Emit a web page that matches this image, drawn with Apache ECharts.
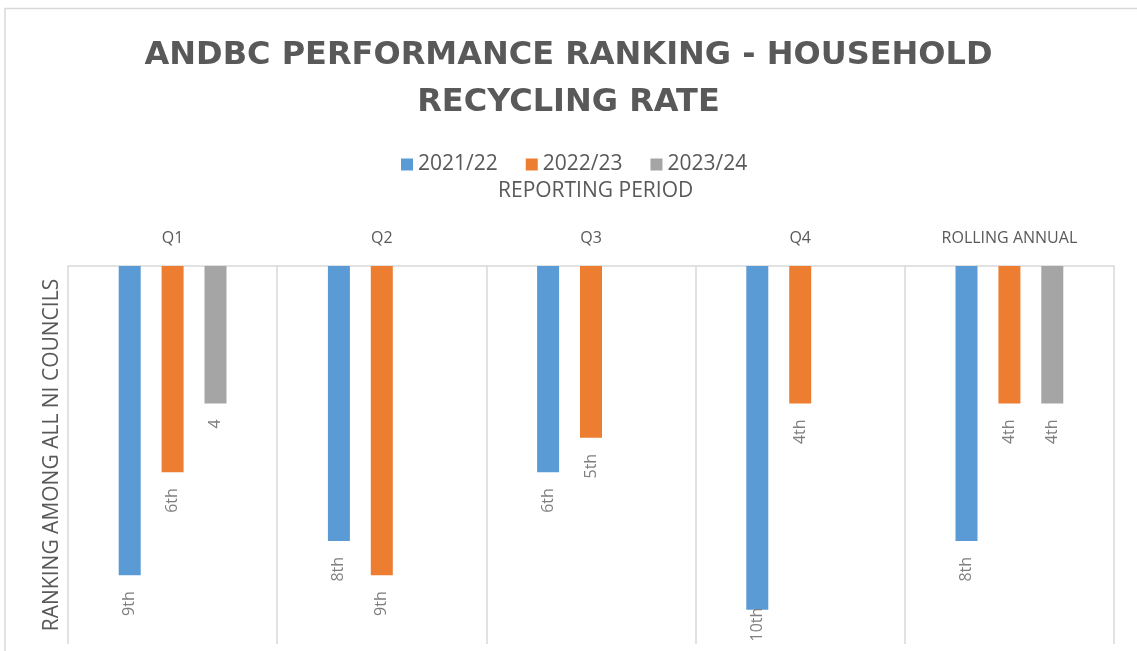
<!DOCTYPE html>
<html>
<head>
<meta charset="utf-8">
<script src="https://cdn.jsdelivr.net/npm/echarts@6/dist/echarts.min.js"></script>
<style>
html,body{margin:0;padding:0;background:#fff;}
#chart{width:1137px;height:651px;}
</style>
</head>
<body>
<div id="chart"></div>
<script>
const categories = ["Q1", "Q2", "Q3", "Q4", "ROLLING ANNUAL"];
const seriesNames = ["2021/22", "2022/23", "2023/24"];
const values2122 = [9, 8, 6, 10, 8];
const values2223 = [6, 9, 5, 4, 4];
const values2324 = [4, null, null, null, 4];
const labels2122 = ["9th", "8th", "6th", "10th", "8th"];
const labels2223 = ["6th", "9th", "5th", "4th", "4th"];
const labels2324 = ["4", "", "", "", "4th"];
const colors = ["#5B9BD5", "#ED7D31", "#A5A5A5"];

const chart = echarts.init(document.getElementById('chart'), null, {renderer: 'canvas'});
const font = '"Open Sans", "Liberation Sans", sans-serif';
const yMax = 11;

function makeSeries(name, vals, labs, color) {
  return {
    name: name,
    type: 'bar',
    // labels that would run off the bottom of the plot are pulled back onto the bar end
    data: vals.map(function (v) {
      if (v !== null && v >= yMax - 1) {
        return {value: v, label: {distance: -2}};
      }
      return v;
    }),
    barWidth: 22,
    barGap: '95%',
    itemStyle: {color: color},
    label: {
      show: true,
      position: 'bottom',
      distance: 16,
      rotate: 90,
      align: 'right',
      verticalAlign: 'middle',
      fontFamily: font,
      fontSize: 16,
      color: '#7f7f7f',
      formatter: function (p) { return labs[p.dataIndex]; }
    }
  };
}

chart.setOption({
  animation: false,
  backgroundColor: '#ffffff',
  title: [{
    text: 'ANDBC PERFORMANCE RANKING - HOUSEHOLD\nRECYCLING RATE',
    left: 'center',
    top: 27,
    textStyle: {fontFamily: '"DejaVu Sans", sans-serif', fontSize: 32, fontWeight: 'bold', color: '#595959', lineHeight: 47}
  }, {
    text: 'REPORTING PERIOD',
    left: 493,
    top: 176,
    textStyle: {fontFamily: font, fontSize: 21, fontWeight: 'normal', color: '#595959'}
  }],
  legend: {
    data: seriesNames,
    top: 149,
    left: 396,
    itemWidth: 12,
    itemHeight: 12,
    itemGap: 28,
    itemTextGap: 7,
    icon: 'rect',
    textStyle: {fontFamily: font, fontSize: 21, color: '#595959'}
  },
  grid: {left: 68, right: 23, top: 266, bottom: 7, containLabel: false},
  xAxis: {
    type: 'category',
    data: categories,
    position: 'top',
    axisLine: {show: true, lineStyle: {color: '#d9d9d9', width: 1.5}},
    axisTick: {show: false},
    splitLine: {show: true, lineStyle: {color: '#d9d9d9', width: 1.5}},
    axisLabel: {fontFamily: font, fontSize: 16, color: '#595959', margin: 20}
  },
  yAxis: {
    type: 'value',
    min: 0,
    max: yMax,
    interval: 1,
    inverse: true,
    name: 'RANKING AMONG ALL NI COUNCILS',
    nameLocation: 'middle',
    nameGap: 5,
    nameRotate: 90,
    nameTextStyle: {fontFamily: font, fontSize: 21, color: '#595959'},
    axisLine: {show: false},
    axisTick: {show: false},
    axisLabel: {show: false},
    splitLine: {show: false}
  },
  graphic: [{
    type: 'rect',
    shape: {x: 5, y: 8.5, width: 1200, height: 700},
    style: {fill: 'none', stroke: '#d9d9d9', lineWidth: 1.5},
    silent: true,
    z: -10
  }],
  series: [
    makeSeries(seriesNames[0], values2122, labels2122, colors[0]),
    makeSeries(seriesNames[1], values2223, labels2223, colors[1]),
    makeSeries(seriesNames[2], values2324, labels2324, colors[2])
  ]
});
</script>
</body>
</html>
